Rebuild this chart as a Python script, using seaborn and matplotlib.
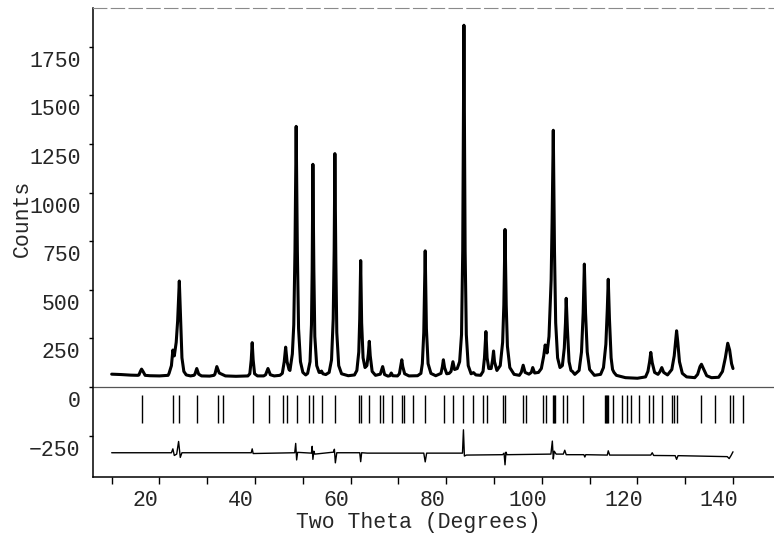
import matplotlib
matplotlib.use("Agg")
import matplotlib.pyplot as plt
import matplotlib.transforms as mtransforms
import pandas as pd
import seaborn as sns

observed_profile = [
    (10.0, 66), (12.0, 64), (14.0, 61), (15.5, 60),
    (15.7, 62), (16.0, 80), (16.25, 92), (16.6, 78), (17.0, 60),
    (18.0, 58), (20.0, 57), (21.8, 60),
    (22.0, 70), (22.5, 110), (22.8, 190), (23.1, 160), (23.5, 230), (23.8, 340),
    (24.15, 545), (24.45, 330), (24.7, 150), (25.1, 80), (25.6, 62),
    (26.5, 57), (27.2, 60),
    (27.4, 65), (27.8, 95), (28.2, 66), (28.8, 57),
    (30.5, 56), (31.4, 60),
    (31.6, 66), (32.0, 105), (32.5, 72), (33.2, 64), (33.8, 57),
    (36.0, 55), (38.5, 57),
    (38.9, 68), (39.2, 140), (39.4, 228), (39.6, 140), (39.9, 68), (40.5, 57),
    (41.8, 57),
    (42.2, 63), (42.7, 95), (43.2, 63), (44.0, 57),
    (45.2, 60),
    (45.7, 70), (46.1, 130), (46.4, 205), (46.7, 130), (47.1, 90),
    (47.3, 85), (47.8, 170), (48.1, 320), (48.35, 700), (48.6, 1340), (48.85, 700),
    (49.1, 300), (49.5, 130), (50.0, 75), (50.6, 62),
    (51.0, 70), (51.5, 130), (51.8, 320), (51.95, 600), (52.1, 1145), (52.3, 600),
    (52.5, 260), (52.9, 110), (53.4, 75),
    (53.7, 75), (53.9, 82), (54.2, 68), (54.8, 64),
    (55.5, 75), (56.0, 140), (56.35, 350), (56.55, 700), (56.7, 1200), (56.9, 650),
    (57.1, 280), (57.5, 110), (58.1, 68),
    (59.5, 58), (60.8, 62),
    (61.3, 85), (61.7, 180), (61.9, 350), (62.1, 650), (62.3, 330), (62.6, 150), (63.0, 100),
    (63.4, 110), (63.7, 170), (63.9, 235), (64.1, 160), (64.5, 80), (65.2, 60),
    (66.2, 66), (66.7, 105), (67.1, 64), (67.8, 56),
    (68.2, 58), (68.5, 72), (68.8, 58), (69.8, 57),
    (70.2, 68), (70.5, 110), (70.7, 140), (70.9, 105), (71.3, 68), (72.2, 57),
    (74.0, 58), (74.7, 70),
    (75.0, 120), (75.3, 280), (75.6, 700), (75.85, 300), (76.2, 120), (76.8, 70), (77.8, 58),
    (78.9, 70), (79.2, 105), (79.4, 140), (79.65, 100), (80.1, 68), (80.6, 70),
    (81.0, 80), (81.4, 130), (81.75, 90), (82.3, 95),
    (82.8, 130), (83.2, 270), (83.45, 700), (83.7, 1860), (83.95, 700), (84.2, 270),
    (84.6, 110), (85.2, 68),
    (85.7, 74), (86.2, 62), (87.2, 60),
    (87.7, 80), (88.0, 150), (88.3, 285), (88.55, 150), (88.9, 95),
    (89.4, 95), (89.7, 140), (89.9, 185), (90.1, 130), (90.6, 85),
    (91.3, 110), (91.8, 230), (92.05, 420), (92.3, 810), (92.55, 420), (92.8, 210),
    (93.3, 100), (94.2, 65),
    (95.3, 60),
    (95.7, 75), (96.1, 112), (96.5, 75), (97.3, 66),
    (97.8, 75), (98.1, 100), (98.5, 72), (99.3, 75),
    (99.9, 95), (100.4, 160), (100.7, 216), (101.1, 175), (101.5, 260),
    (101.95, 550), (102.15, 850), (102.4, 1320), (102.65, 700), (102.9, 330),
    (103.3, 150), (103.8, 100),
    (104.3, 110), (104.7, 200), (104.95, 330), (105.1, 456), (105.35, 300), (105.7, 130),
    (106.1, 85), (106.4, 80), (106.9, 65),
    (107.8, 85), (108.3, 180), (108.65, 380), (108.9, 632), (109.15, 380), (109.5, 180),
    (110.0, 90), (111.0, 60),
    (112.3, 65),
    (112.9, 100), (113.4, 220), (113.7, 400), (113.9, 554), (114.15, 350), (114.5, 150),
    (114.8, 90), (115.1, 75), (115.6, 60),
    (117.5, 48), (120.0, 45), (121.7, 52),
    (122.2, 80), (122.55, 130), (122.8, 178), (123.1, 125), (123.6, 75), (124.3, 65),
    (124.7, 78), (125.1, 100), (125.5, 75), (126.3, 62),
    (127.2, 90), (127.7, 160), (128.0, 240), (128.2, 289), (128.45, 230), (128.8, 130),
    (129.4, 70), (130.3, 52),
    (132.0, 48),
    (132.6, 65), (133.1, 105), (133.4, 117), (133.8, 95), (134.5, 58), (135.5, 48),
    (137.0, 50),
    (137.8, 80), (138.4, 150), (138.9, 225), (139.3, 190), (139.7, 120), (140.0, 95),
]

# Difference curve (observed - calculated, offset) vertices
difference_profile = [
    (10.0, -338), (22.5, -338), (22.8, -318), (23.1, -352), (23.6, -345), (24.0, -280),
    (24.35, -362), (24.7, -338), (39.2, -338), (39.4, -318), (39.6, -342),
    (48.3, -338), (48.5, -290), (48.7, -375), (48.9, -336),
    (51.8, -340), (51.95, -305), (52.1, -372), (52.3, -330), (52.5, -345),
    (56.4, -335), (56.6, -320), (56.8, -390), (57.1, -338),
    (61.9, -338), (62.1, -384), (62.3, -338), (63.5, -340),
    (75.3, -340), (75.6, -385), (75.9, -340),
    (83.4, -340), (83.6, -220), (83.8, -355), (84.2, -350),
    (91.8, -348), (92.1, -340), (92.3, -400), (92.5, -335), (92.7, -348),
    (101.9, -345), (102.2, -278), (102.4, -370), (102.6, -330), (103.0, -345),
    (104.5, -345), (104.8, -325), (105.1, -348),
    (108.8, -348), (109.0, -360), (109.2, -348),
    (113.7, -350), (113.9, -328), (114.2, -350),
    (122.8, -350), (123.1, -338), (123.4, -352),
    (127.9, -353), (128.2, -372), (128.5, -353),
    (138.8, -358), (139.2, -368), (139.6, -352), (140.0, -333),
]

# Bragg reflection positions (2-theta, degrees)
reflection_positions = [
    16.3, 22.9, 24.15, 27.9, 32.3, 33.2, 39.5, 42.9, 45.9, 46.6, 48.7, 51.35, 52.06,
    54.07, 56.73, 61.8, 62.17, 63.9, 66.14, 66.71, 68.6, 70.68, 71.23, 73.1, 75.56,
    79.53, 81.48, 83.57, 85.54, 87.76, 88.47, 91.94, 92.3, 96.13, 96.69, 100.31,
    100.88, 102.28, 102.5, 102.76, 104.5, 105.21, 108.68, 113.2, 113.4, 113.6, 113.9,
    114.83, 116.72, 117.9, 118.6, 120.4, 122.5, 123.2, 125.1, 127.3, 127.7, 128.2,
    133.3, 136.2, 139.4, 139.9, 142.0,
]

x_ticks_major = [20, 40, 60, 80, 100, 120, 140]
x_ticks_minor = [10, 30, 50, 70, 90, 110, 130]
y_ticks = [-250, 0, 250, 500, 750, 1000, 1250, 1500, 1750]

sns.set_style("ticks")
plt.rcParams["font.family"] = ["Liberation Mono", "DejaVu Sans Mono"]

W, H = 774, 541
fig = plt.figure(figsize=(W / 100, H / 100), dpi=100)
ax = fig.add_axes([93 / W, 1 - 477 / H, (W - 93) / W, (477 - 8) / H])

obs = pd.DataFrame(observed_profile, columns=["two_theta", "counts"])
dif = pd.DataFrame(difference_profile, columns=["two_theta", "counts"])

sns.lineplot(data=obs, x="two_theta", y="counts", ax=ax, color="black",
             lw=2.2, sort=False, estimator=None)
sns.lineplot(data=dif, x="two_theta", y="counts", ax=ax, color="black",
             lw=1.0, sort=False, estimator=None)
ax.vlines(reflection_positions, -187, -41, color="black", lw=1.0)
ax.axhline(0, color="#555555", lw=0.9)

ax.set_xlim(6.09, 148.58)
ax.set_ylim(-462.7, 1948.6)

ax.set_xticks(x_ticks_major)
ax.set_xticks(x_ticks_minor, minor=True)
ax.set_yticks(y_ticks)
ax.tick_params(axis="x", which="both", direction="out", length=5, width=1.0,
               labelsize=15.5, pad=4, color="black")
ax.tick_params(axis="y", direction="out", length=3, width=1.0, labelsize=15.5,
               pad=6, color="black")

for t in ax.get_xticklabels():
    t.set_transform(t.get_transform() + mtransforms.ScaledTranslation(-14 / 100, 0, fig.dpi_scale_trans))
for t in ax.get_yticklabels():
    t.set_transform(t.get_transform() + mtransforms.ScaledTranslation(0, -12 / 100, fig.dpi_scale_trans))

for side in ["left", "bottom"]:
    ax.spines[side].set_color("black")
    ax.spines[side].set_linewidth(1.1)
ax.spines["right"].set_visible(False)
ax.spines["top"].set_color("#8a8a8a")
ax.spines["top"].set_linewidth(0.8)
ax.spines["top"].set_linestyle((0, (12, 4)))

ax.set_xlabel("Two Theta (Degrees)", fontsize=15.5)
ax.set_ylabel("Counts", fontsize=15.5)
ax.xaxis.set_label_coords((418 - 93) / (W - 93), -(512 - 477) / 469)
ax.yaxis.set_label_coords(-(93 - 33) / (W - 93), (477 - 218) / 469)

fig.savefig("out.png", dpi=100, facecolor="white")
